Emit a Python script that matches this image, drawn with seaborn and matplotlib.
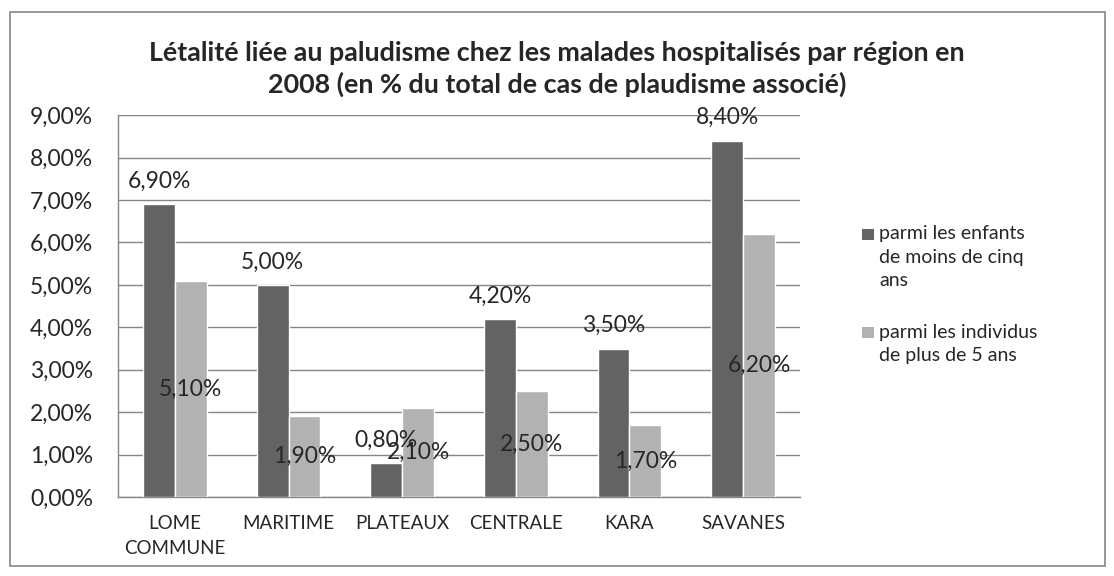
import numpy as np
import pandas as pd
import matplotlib
matplotlib.use("Agg")
import matplotlib.pyplot as plt
import seaborn as sns
from matplotlib.patches import Rectangle
from matplotlib.ticker import FixedLocator

# Données
regions = ["LOME\nCOMMUNE", "MARITIME", "PLATEAUX", "CENTRALE", "KARA", "SAVANES"]
enfants_moins_5 = [6.90, 5.00, 0.80, 4.20, 3.50, 8.40]
individus_plus_5 = [5.10, 1.90, 2.10, 2.50, 1.70, 6.20]
series = ["parmi les enfants de moins de cinq ans", "parmi les individus de plus de 5 ans"]
legende = ["parmi les enfants\nde moins de cinq\nans", "parmi les individus\nde plus de 5 ans"]
titre = ("Létalité liée au paludisme chez les malades hospitalisés par région en\n"
         "2008 (en % du total de cas de plaudisme associé)")

df = pd.DataFrame({
    "Région": regions * 2,
    "Valeur": enfants_moins_5 + individus_plus_5,
    "Série": [series[0]] * len(regions) + [series[1]] * len(regions),
})

sns.set_style("white")
plt.rcParams["font.family"] = ["Lato", "DejaVu Sans"]

couleurs = ["#636363", "#b2b2b2"]

fig = plt.figure(figsize=(11.14, 5.76), dpi=100)
ax = fig.add_axes([0.106, 0.137, 0.612, 0.663])

sns.barplot(data=df, x="Région", y="Valeur", hue="Série", palette=couleurs,
            width=0.56, saturation=1, ax=ax, legend=False, zorder=3)

ax.set_ylim(0, 9)
ax.set_xlim(-0.5, len(regions) - 0.5)
ax.set_yticks(np.arange(0, 10, 1))
ax.set_yticklabels([f"{v:.2f}%".replace(".", ",") for v in np.arange(0, 10, 1)], fontsize=16.5)
ax.tick_params(axis="x", which="major", length=0, labelsize=13.5, pad=13)
for lab in ax.get_xticklabels():
    lab.set_linespacing(1.55)
ax.xaxis.set_minor_locator(FixedLocator(np.arange(-0.5, len(regions), 1)))
ax.tick_params(axis="x", which="minor", length=5, color="#868686", direction="out")
ax.tick_params(axis="y", length=7, color="#868686", direction="out", pad=11)
ax.set_xlabel("")
ax.set_ylabel("")
ax.yaxis.grid(True, color="#868686", linewidth=1, zorder=0)
ax.set_axisbelow(True)
for s in ["top", "right"]:
    ax.spines[s].set_visible(False)
for s in ["left", "bottom"]:
    ax.spines[s].set_color("#868686")
    ax.spines[s].set_linewidth(1)

# Étiquettes de données
fmt = lambda vals: [f"{v:.2f}%".replace(".", ",") for v in vals]
ax.bar_label(ax.containers[0], labels=fmt(enfants_moins_5), label_type="edge",
             padding=9, fontsize=16.5)
ax.bar_label(ax.containers[1], labels=fmt(individus_plus_5), label_type="center",
             fontsize=16.5)

# Légende (carré aligné sur la première ligne du texte)
leg_y = [0.593, 0.422]
for couleur, texte, y in zip(couleurs, legende, leg_y):
    fig.patches.append(Rectangle((0.774, y - 0.0095), 0.0108, 0.019, transform=fig.transFigure,
                                 facecolor=couleur, edgecolor="none"))
    fig.text(0.789, y + 0.016, texte, ha="left", va="top", fontsize=14, linespacing=1.45)

fig.text(0.5, 0.880, titre, ha="center", va="center", fontsize=19.4,
         fontweight="bold", linespacing=1.35)

fig.patches.append(Rectangle((0.009, 0.017), 0.983, 0.962, transform=fig.transFigure,
                             fill=False, edgecolor="#868686", linewidth=1.2))

fig.savefig("out.png", dpi=100)
